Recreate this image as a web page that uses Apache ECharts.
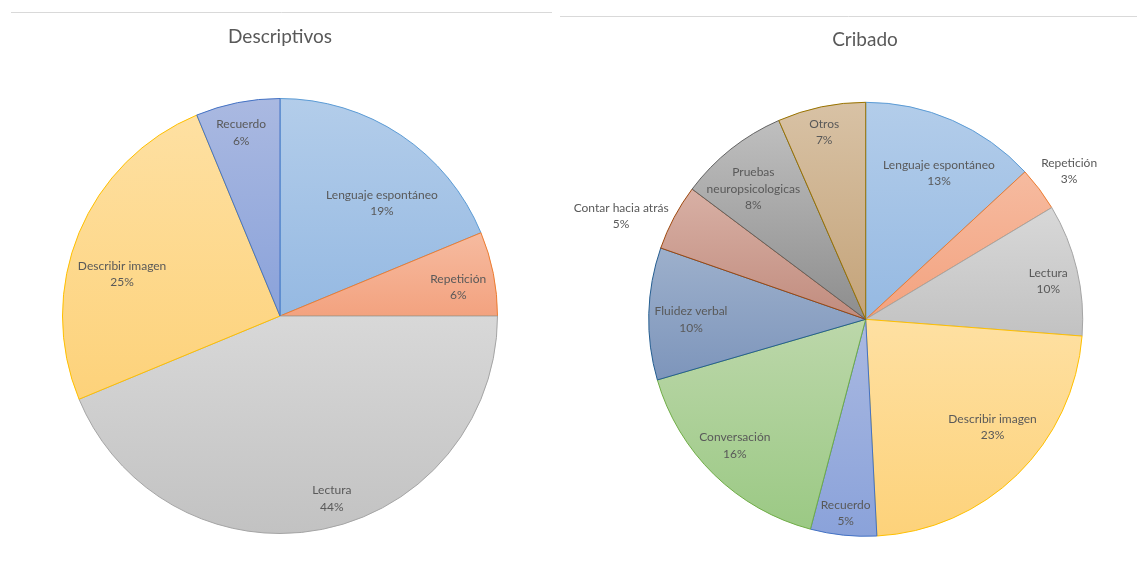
<!DOCTYPE html>
<html>
<head>
<meta charset="utf-8">
<title>Descriptivos / Cribado</title>
<script src="https://cdn.jsdelivr.net/npm/echarts@6/dist/echarts.min.js"></script>
<style>
  html, body { margin: 0; padding: 0; background: #ffffff; }
  #chart { width: 1137px; height: 579px; }
</style>
</head>
<body>
<div id="chart"></div>
<script>
// ---- data ----
const descCategories = ['Lenguaje espontáneo', 'Repetición', 'Lectura', 'Describir imagen', 'Recuerdo'];
const descValues = [3, 1, 7, 4, 1];

const cribCategories = ['Lenguaje espontáneo', 'Repetición', 'Lectura', 'Describir imagen', 'Recuerdo',
  'Conversación', 'Fluidez verbal', 'Contar hacia atrás', 'Pruebas neuropsicologicas', 'Otros'];
const cribValues = [8, 2, 6, 14, 3, 10, 6, 3, 5, 4];

// ---- styling ----
// [border, gradient top, gradient bottom] per category
const palette = {
  'Lenguaje espontáneo': ['#5B9BD5', '#b3cdea', '#95b9e2'],
  'Repetición': ['#ED7D31', '#f6bba0', '#f3a27f'],
  'Lectura': ['#A5A5A5', '#d8d8d8', '#c2c2c2'],
  'Describir imagen': ['#FFC000', '#fee0a2', '#fdd27a'],
  'Recuerdo': ['#4472C4', '#aab9e1', '#8aa2da'],
  'Conversación': ['#70AD47', '#bcd7aa', '#9bc984'],
  'Fluidez verbal': ['#255E91', '#9db0cc', '#7d95bb'],
  'Contar hacia atrás': ['#9E480E', '#d8b0a5', '#c18c7e'],
  'Pruebas neuropsicologicas': ['#636363', '#bfbfbf', '#8d8d8d'],
  'Otros': ['#997300', '#d8c2a5', '#c4a379']
};

// label placement: [angle shift from slice middle (deg), distance as fraction of radius]
const descLabelPlace = [[8.3, 0.70], [2.1, 0.83], [-4.6, 0.873], [-7.7, 0.751], [-0.7, 0.862]];
const cribLabelPlace = [[3.0, 0.754], [0.8, 1.16], [1.4, 0.86], [-5.4, 0.767], [0, 0.897],
  [1.7, 0.839], [-1.6, 0.805], [-5.2, 1.223], [-2.4, 0.793], [-0.7, 0.884]];

const descPie = { center: [280, 316], radius: 217.5 };
const cribPie = { center: [865.7, 319.3], radius: 217 };

const labelFont = 'Lato, "Open Sans", sans-serif';

function buildData(cats, vals) {
  return cats.map(function (name, i) {
    const p = palette[name];
    return {
      name: name,
      value: vals[i],
      itemStyle: {
        borderColor: p[0],
        borderWidth: 1,
        color: new echarts.graphic.LinearGradient(0, 0, 0, 1, [
          { offset: 0, color: p[1] },
          { offset: 1, color: p[2] }
        ])
      }
    };
  });
}

// slice middle angles (clockwise from 12 o'clock, degrees)
function midAngles(vals) {
  const total = vals.reduce(function (a, b) { return a + b; }, 0);
  let acc = 0;
  return vals.map(function (v) {
    const mid = (acc + v / 2) / total * 360;
    acc += v;
    return mid;
  });
}

function makeLayout(vals, place, geom) {
  const mids = midAngles(vals);
  return function (params) {
    const i = params.dataIndex;
    const a = (mids[i] + place[i][0]) * Math.PI / 180;
    const r = geom.radius * place[i][1];
    return {
      x: geom.center[0] + r * Math.sin(a),
      y: geom.center[1] - r * Math.cos(a),
      align: 'center',
      verticalAlign: 'middle'
    };
  };
}

function labelText(params) {
  const name = params.name.length > 20 ? params.name.replace(' ', '\n') : params.name;
  return name + '\n' + params.percent + '%';
}

function pieSeries(cats, vals, place, geom) {
  return {
    type: 'pie',
    center: geom.center,
    radius: geom.radius,
    startAngle: 90,
    clockwise: true,
    percentPrecision: 0,
    avoidLabelOverlap: false,
    animation: false,
    silent: true,
    label: {
      show: true,
      position: 'inside',
      formatter: labelText,
      fontFamily: labelFont,
      fontSize: 12,
      lineHeight: 16.5,
      color: '#595959',
      align: 'center'
    },
    labelLine: { show: false },
    labelLayout: makeLayout(vals, place, geom),
    data: buildData(cats, vals)
  };
}

const chart = echarts.init(document.getElementById('chart'), null, { renderer: 'canvas' });

chart.setOption({
  backgroundColor: '#ffffff',
  title: [
    {
      text: 'Descriptivos',
      left: 280, top: 27, textAlign: 'center', padding: 0,
      textStyle: { fontFamily: labelFont, fontSize: 19, fontWeight: 'normal', color: '#595959' }
    },
    {
      text: 'Cribado',
      left: 865, top: 30, textAlign: 'center', padding: 0,
      textStyle: { fontFamily: labelFont, fontSize: 19, fontWeight: 'normal', color: '#595959' }
    }
  ],
  graphic: [
    { type: 'line', shape: { x1: 11, y1: 12.5, x2: 552, y2: 12.5 }, style: { stroke: '#d9d9d9', lineWidth: 1 } },
    { type: 'line', shape: { x1: 560, y1: 16.5, x2: 1137, y2: 16.5 }, style: { stroke: '#d9d9d9', lineWidth: 1 } }
  ],
  series: [
    pieSeries(descCategories, descValues, descLabelPlace, descPie),
    pieSeries(cribCategories, cribValues, cribLabelPlace, cribPie)
  ]
});
</script>
</body>
</html>
